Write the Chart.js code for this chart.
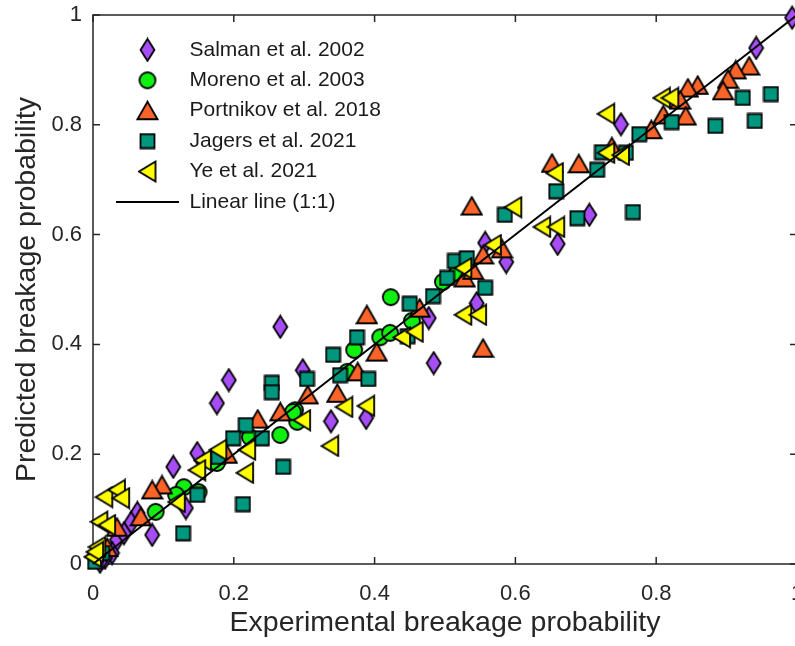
<!DOCTYPE html>
<html>
<head>
<meta charset="utf-8">
<script src="https://cdn.jsdelivr.net/npm/chart.js@4.4.1/dist/chart.umd.min.js"></script>
<style>
  html, body { margin: 0; padding: 0; background: #fff; overflow: hidden; }
  #wrap { width: 820px; height: 646px; }
</style>
</head>
<body>
<div id="wrap"><canvas id="breakageChart" width="820" height="646"></canvas></div>
<script>
// Data (experimental vs predicted breakage probability)
const salmanX = [0.993, 0.942, 0.75, 0.705, 0.66, 0.587, 0.557, 0.545, 0.477, 0.484, 0.266, 0.298, 0.338, 0.388, 0.193, 0.176, 0.148, 0.114, 0.132, 0.084, 0.063, 0.054, 0.034, 0.044, 0.027, 0.017, 0.01];
const salmanY = [0.995, 0.94, 0.801, 0.636, 0.583, 0.55, 0.585, 0.475, 0.448, 0.366, 0.432, 0.353, 0.26, 0.266, 0.335, 0.293, 0.202, 0.177, 0.102, 0.053, 0.093, 0.075, 0.044, 0.056, 0.02, 0.011, 0.004];

const morenoX = [0.423, 0.371, 0.408, 0.422, 0.453, 0.497, 0.517, 0.361, 0.287, 0.29, 0.266, 0.223, 0.176, 0.089, 0.129, 0.15, 0.118, 0.284];
const morenoY = [0.486, 0.39, 0.413, 0.421, 0.443, 0.514, 0.53, 0.35, 0.28, 0.259, 0.235, 0.231, 0.184, 0.095, 0.14, 0.131, 0.126, 0.277];

const portnikovX = [0.932, 0.913, 0.902, 0.895, 0.859, 0.845, 0.834, 0.842, 0.81, 0.793, 0.737, 0.652, 0.69, 0.581, 0.554, 0.528, 0.54, 0.554, 0.538, 0.389, 0.464, 0.403, 0.376, 0.347, 0.305, 0.234, 0.266, 0.19, 0.098, 0.084, 0.068, 0.034, 0.02];
const portnikovY = [0.907, 0.9, 0.883, 0.862, 0.872, 0.867, 0.845, 0.816, 0.818, 0.791, 0.76, 0.73, 0.729, 0.574, 0.563, 0.521, 0.535, 0.393, 0.652, 0.454, 0.466, 0.386, 0.35, 0.311, 0.308, 0.264, 0.277, 0.2, 0.144, 0.135, 0.086, 0.067, 0.03];

const jagersX = [0.963, 0.923, 0.94, 0.884, 0.822, 0.776, 0.723, 0.757, 0.716, 0.658, 0.585, 0.688, 0.767, 0.557, 0.514, 0.531, 0.503, 0.483, 0.45, 0.447, 0.375, 0.341, 0.351, 0.391, 0.304, 0.254, 0.254, 0.217, 0.199, 0.24, 0.27, 0.178, 0.128, 0.148, 0.213, 0.013, 0.003];
const jagersY = [0.856, 0.849, 0.807, 0.798, 0.805, 0.783, 0.75, 0.749, 0.718, 0.679, 0.636, 0.63, 0.641, 0.503, 0.552, 0.557, 0.521, 0.488, 0.474, 0.415, 0.413, 0.381, 0.344, 0.337, 0.337, 0.33, 0.313, 0.253, 0.229, 0.229, 0.177, 0.195, 0.056, 0.126, 0.109, 0.02, 0.004];

const yeX = [0.729, 0.808, 0.82, 0.729, 0.75, 0.656, 0.597, 0.638, 0.658, 0.568, 0.526, 0.526, 0.547, 0.439, 0.457, 0.357, 0.388, 0.337, 0.297, 0.219, 0.178, 0.156, 0.148, 0.216, 0.016, 0.034, 0.04, 0.119, 0.009, 0.02, 0.006, 0.0, 0.003];
const yeY = [0.82, 0.849, 0.849, 0.749, 0.745, 0.712, 0.65, 0.614, 0.614, 0.581, 0.539, 0.454, 0.454, 0.413, 0.423, 0.286, 0.288, 0.215, 0.262, 0.208, 0.208, 0.189, 0.171, 0.166, 0.122, 0.135, 0.12, 0.113, 0.077, 0.071, 0.031, 0.013, 0.022];

const lineX = [0, 1];
const lineY = [0, 1];

const tickValues = [0, 0.2, 0.4, 0.6, 0.8, 1];
const tickLabels = ['0', '0.2', '0.4', '0.6', '0.8', '1'];

const seriesLabels = ['Salman et al. 2002', 'Moreno et al. 2003', 'Portnikov et al. 2018', 'Jagers et al. 2021', 'Ye et al. 2021', 'Linear line (1:1)'];

const FONT = "'Liberation Sans', Arial, sans-serif";
const AXIS_COLOR = '#262626';

function toPoints(xs, ys) {
    return xs.map((x, i) => ({ x: x, y: ys[i] }));
}

// MATLAB-like marker shapes, drawn once on small canvases
function makeMarker(shape, fill) {
    const dims = { diamond: [17, 25], circle: [20, 20], triangle: [23, 21], square: [17, 17], left: [20, 23] };
    const [w, h] = dims[shape];
    const c = document.createElement('canvas');
    c.width = w;
    c.height = h;
    const ctx = c.getContext('2d');
    ctx.fillStyle = fill;
    ctx.strokeStyle = '#000';
    ctx.lineWidth = 1.8;
    ctx.lineJoin = 'miter';
    ctx.beginPath();
    if (shape === 'diamond') {
        ctx.moveTo(w / 2, 1.5);
        ctx.lineTo(w - 1.5, h / 2);
        ctx.lineTo(w / 2, h - 1.5);
        ctx.lineTo(1.5, h / 2);
    } else if (shape === 'circle') {
        ctx.arc(w / 2, h / 2, 8, 0, Math.PI * 2);
    } else if (shape === 'triangle') {
        ctx.moveTo(w / 2, 1.5);
        ctx.lineTo(w - 1.5, h - 2);
        ctx.lineTo(1.5, h - 2);
    } else if (shape === 'square') {
        ctx.rect(1.5, 1.5, w - 3, h - 3);
    } else {
        ctx.moveTo(1.5, h / 2);
        ctx.lineTo(w - 2, 1.5);
        ctx.lineTo(w - 2, h - 1.5);
    }
    ctx.closePath();
    ctx.fill();
    ctx.stroke();
    return c;
}

function scatterSet(label, xs, ys, shape, fill, order) {
    return {
        label: label,
        data: toPoints(xs, ys),
        pointStyle: makeMarker(shape, fill),
        backgroundColor: fill,
        borderColor: '#000',
        showLine: false,
        clip: false,
        order: order
    };
}

// Box + inward tick marks, like the original axes
const axesFrame = {
    id: 'axesFrame',
    beforeDraw(chart) {
        // put the legend in the upper-left corner of the plot
        const a = chart.chartArea;
        if (chart.legend) {
            chart.legend.left = a.left + 13.6;
            chart.legend.top = a.top + 15;
        }
    },
    beforeDatasetsDraw(chart) {
        const { ctx, chartArea: a, scales: { x, y } } = chart;
        ctx.save();
        ctx.strokeStyle = AXIS_COLOR;
        ctx.lineWidth = 1.5;
        ctx.strokeRect(a.left, a.top, a.right - a.left, a.bottom - a.top);
        ctx.beginPath();
        tickValues.forEach(v => {
            const px = x.getPixelForValue(v);
            const py = y.getPixelForValue(v);
            ctx.moveTo(px, a.bottom); ctx.lineTo(px, a.bottom - 7);
            ctx.moveTo(px, a.top); ctx.lineTo(px, a.top + 7);
            ctx.moveTo(a.left, py); ctx.lineTo(a.left + 7, py);
            ctx.moveTo(a.right, py); ctx.lineTo(a.right - 7, py);
        });
        ctx.stroke();
        ctx.restore();
    }
};

const ctx = document.getElementById('breakageChart').getContext('2d');

new Chart(ctx, {
    type: 'scatter',
    data: {
        datasets: [
            scatterSet(seriesLabels[0], salmanX, salmanY, 'diamond', '#a64df5', 6),
            scatterSet(seriesLabels[1], morenoX, morenoY, 'circle', '#10f010', 5),
            scatterSet(seriesLabels[2], portnikovX, portnikovY, 'triangle', '#fa6428', 4),
            scatterSet(seriesLabels[3], jagersX, jagersY, 'square', '#00977f', 3),
            scatterSet(seriesLabels[4], yeX, yeY, 'left', '#ffff00', 2),
            {
                label: seriesLabels[5],
                data: toPoints(lineX, lineY),
                showLine: true,
                borderColor: '#000',
                borderWidth: 2,
                pointRadius: 0,
                pointHoverRadius: 0,
                pointStyle: 'line',
                pointBorderColor: '#000',
                pointBorderWidth: 2,
                clip: false,
                order: 1
            }
        ]
    },
    options: {
        responsive: false,
        devicePixelRatio: 1,
        animation: false,
        events: [],
        layout: {
            padding: { left: 0, top: 15, right: 23, bottom: 0 }
        },
        scales: {
            x: {
                type: 'linear',
                min: 0,
                max: 1,
                grid: { display: false, drawTicks: false },
                border: { display: false },
                ticks: {
                    stepSize: 0.2,
                    padding: 17,
                    color: AXIS_COLOR,
                    font: { family: FONT, size: 22 },
                    maxRotation: 0,
                    callback: value => tickLabels[Math.round(value * 5)]
                },
                title: {
                    display: true,
                    text: 'Experimental breakage probability',
                    color: AXIS_COLOR,
                    font: { family: FONT, size: 28.5 },
                    padding: { top: 0, bottom: 6 }
                },
                afterFit: scale => {
                    scale.height = 82;
                    scale.paddingLeft = 0;
                    scale.paddingRight = 0;
                }
            },
            y: {
                type: 'linear',
                min: 0,
                max: 1,
                grid: { display: false, drawTicks: false },
                border: { display: false },
                ticks: {
                    stepSize: 0.2,
                    padding: 11,
                    color: AXIS_COLOR,
                    font: { family: FONT, size: 22 },
                    callback: value => tickLabels[Math.round(value * 5)]
                },
                title: {
                    display: true,
                    text: 'Predicted breakage probability',
                    color: AXIS_COLOR,
                    font: { family: FONT, size: 28.5 },
                    padding: { top: 10, bottom: 0 }
                },
                afterFit: scale => {
                    scale.width = 93;
                    scale.paddingTop = 0;
                    scale.paddingBottom = 0;
                }
            }
        },
        plugins: {
            legend: {
                position: 'chartArea',
                align: 'start',
                labels: {
                    usePointStyle: true,
                    pointStyleWidth: 63,
                    padding: 9.4,
                    color: '#1a1a1a',
                    font: { family: FONT, size: 21 },
                    sort: (a, b) => a.datasetIndex - b.datasetIndex
                }
            },
            tooltip: { enabled: false }
        }
    },
    plugins: [axesFrame]
});
</script>
</body>
</html>
